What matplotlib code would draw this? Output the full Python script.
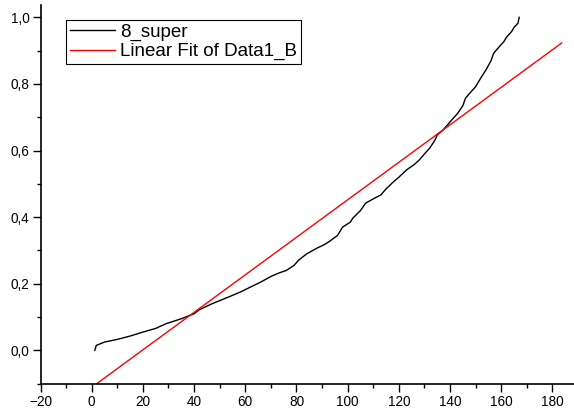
from matplotlib import pyplot as plt
from matplotlib.ticker import MultipleLocator, FuncFormatter

plt.rcParams["font.family"] = ["Liberation Sans", "DejaVu Sans"]

# 8_super data (step curve)
super_x = [1.2, 1.8, 5, 10, 15, 20, 25, 29, 35, 40, 42, 47, 54, 58, 62, 66,
           70, 73, 76, 79, 81, 84, 88, 91, 93, 96, 98, 101, 102, 105, 107,
           110, 113, 115, 118, 120, 123, 126, 128, 130, 132, 134, 135, 137,
           139, 141, 143, 145, 146, 148, 150, 152, 154, 156, 157, 159, 161,
           162, 164, 165, 166.5, 167]
super_y = [0.0, 0.015, 0.025, 0.033, 0.043, 0.055, 0.066, 0.08, 0.095, 0.11,
           0.122, 0.14, 0.162, 0.175, 0.19, 0.205, 0.222, 0.232, 0.24, 0.255,
           0.272, 0.29, 0.307, 0.318, 0.328, 0.345, 0.37, 0.385, 0.397, 0.42,
           0.442, 0.455, 0.467, 0.485, 0.507, 0.52, 0.542, 0.558, 0.572, 0.59,
           0.607, 0.63, 0.647, 0.66, 0.677, 0.695, 0.712, 0.735, 0.757, 0.775,
           0.792, 0.818, 0.842, 0.87, 0.892, 0.91, 0.927, 0.94, 0.957, 0.97,
           0.982, 1.0]

# linear fit end points
fit_x = [0, 183.6]
fit_y = [-0.111, 0.923]

fig = plt.figure(figsize=(5.74, 4.17), dpi=100)
ax = fig.add_axes([40.5 / 574, 33.3 / 417, 1 - 40.5 / 574, (417 - 33.3 - 5) / 417])

ax.plot(super_x, super_y, color="black", lw=1.0, label="8_super")
ax.plot(fit_x, fit_y, color="red", lw=1.0, label="Linear Fit of Data1_B")

ax.set_xlim(-20, 188.4)
ax.set_ylim(-0.1, 1.037)

ax.spines["top"].set_visible(False)
ax.spines["right"].set_visible(False)
ax.spines["left"].set_linewidth(1.2)
ax.spines["bottom"].set_linewidth(1.2)

ax.xaxis.set_major_locator(MultipleLocator(20))
ax.xaxis.set_minor_locator(MultipleLocator(10))
ax.yaxis.set_major_locator(MultipleLocator(0.2))
ax.yaxis.set_minor_locator(MultipleLocator(0.1))
ax.yaxis.set_major_formatter(FuncFormatter(lambda v, p: f"{v:.1f}".replace(".", ",")))

ax.tick_params(which="major", direction="out", length=5.8, width=1.0, labelsize=9.8, pad=2)
ax.tick_params(which="minor", direction="out", length=2.9, width=1.0)

leg = ax.legend(loc="upper left", bbox_to_anchor=(66 / 574, 1 - 20 / 417),
                bbox_transform=fig.transFigure, borderaxespad=0, fontsize=13.5,
                fancybox=False, framealpha=1, edgecolor="black",
                handlelength=2.4, handletextpad=0.3, labelspacing=0.1,
                borderpad=0.2)
leg.get_frame().set_linewidth(0.8)

fig.savefig("out.png", dpi=100)
